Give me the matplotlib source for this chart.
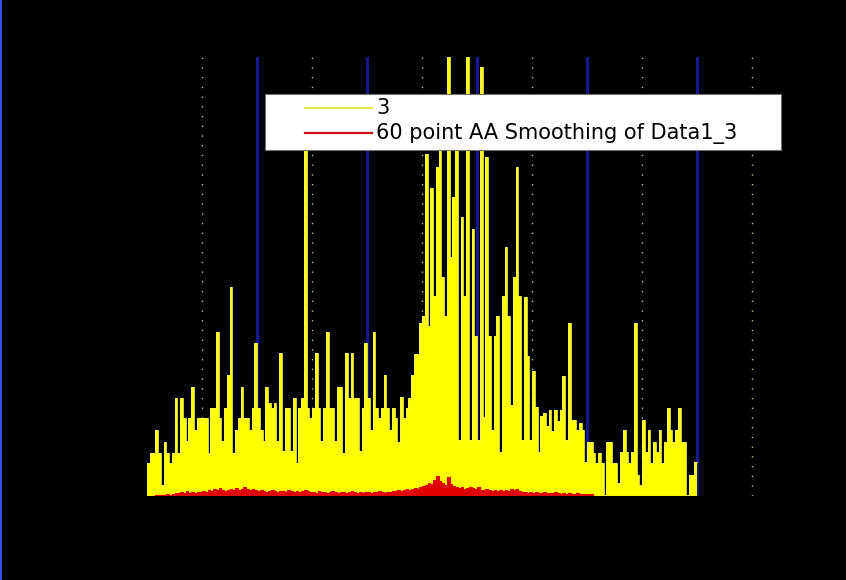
import numpy as np
import matplotlib
matplotlib.use("Agg")
import matplotlib.pyplot as plt
from matplotlib.lines import Line2D
from matplotlib.patches import Rectangle

# raw channel 3 (one value per sample)
data1_3 = [
    3.3, 4.3, 4.3, 6.6, 4.3, 1.1, 5.4, 4.3, 3.3, 4.3,
    9.8, 4.3, 9.8, 7.8, 5.5, 7.8, 10.9, 6.6, 7.8, 7.8,
    7.8, 7.8, 4.3, 8.8, 8.8, 16.4, 7.8, 5.5, 8.8, 12.1,
    20.9, 4.3, 6.6, 7.8, 10.9, 7.8, 7.8, 6.6, 8.8, 15.3,
    8.8, 6.6, 5.5, 10.9, 9.3, 8.8, 9.3, 5.5, 14.3, 4.5,
    8.8, 8.8, 4.5, 9.8, 3.3, 8.8, 9.8, 37.0, 8.8, 7.8,
    8.8, 14.3, 8.8, 5.5, 8.8, 16.4, 8.8, 8.8, 5.5, 10.9,
    10.9, 4.3, 14.3, 9.8, 14.3, 9.8, 9.8, 4.5, 8.8, 15.3,
    9.8, 6.6, 16.4, 8.8, 7.8, 8.8, 12.1, 8.8, 6.6, 8.8,
    7.8, 5.4, 9.9, 7.8, 8.8, 9.8, 12.1, 14.2, 14.2, 17.3,
    18.0, 34.3, 17.0, 30.9, 20.0, 33.0, 34.6, 22.0, 18.0, 46.0,
    24.0, 30.0, 38.0, 5.6, 28.0, 20.0, 46.0, 5.6, 26.8, 16.0,
    5.6, 43.0, 7.9, 34.0, 16.0, 6.6, 16.0, 18.0, 4.4, 20.0,
    25.0, 18.0, 9.1, 22.0, 33.0, 20.0, 5.6, 19.9, 14.0, 5.6,
    12.5, 8.9, 4.4, 8.0, 8.3, 7.0, 8.6, 6.5, 8.6, 7.5,
    8.6, 12.0, 5.6, 17.3, 7.6, 7.6, 6.6, 7.3, 6.6, 3.4,
    5.4, 5.4, 4.3, 3.3, 4.3, 3.3, 0.1, 5.4, 5.4, 3.3,
    3.3, 1.3, 4.4, 6.6, 4.4, 3.3, 4.4, 17.3, 2.1, 1.1,
    7.6, 4.4, 6.6, 3.3, 5.4, 4.4, 6.6, 3.3, 5.4, 8.8,
    6.6, 5.4, 6.6, 8.8, 5.4, 5.4, 0.1, 2.1, 2.1, 3.4,
]

# 60 point AA smoothing of the same channel
smooth_60 = [
    0.0, 0.0, 0.0, 0.15, 0.15, 0.15, 0.15, 0.2, 0.15, 0.2,
    0.35, 0.3, 0.4, 0.35, 0.5, 0.35, 0.4, 0.3, 0.45, 0.4,
    0.5, 0.45, 0.6, 0.5, 0.7, 0.6, 0.8, 0.6, 0.5, 0.6,
    0.7, 0.6, 0.8, 0.6, 0.7, 0.9, 0.7, 0.6, 0.7, 0.6,
    0.5, 0.6, 0.5, 0.4, 0.5, 0.6, 0.5, 0.4, 0.5, 0.5,
    0.4, 0.6, 0.5, 0.4, 0.5, 0.4, 0.5, 0.6, 0.5, 0.4,
    0.4, 0.3, 0.5, 0.4, 0.4, 0.3, 0.4, 0.5, 0.4, 0.3,
    0.4, 0.4, 0.3, 0.4, 0.5, 0.4, 0.3, 0.4, 0.3, 0.4,
    0.4, 0.3, 0.4, 0.4, 0.5, 0.4, 0.3, 0.4, 0.4, 0.5,
    0.5, 0.6, 0.5, 0.6, 0.7, 0.6, 0.7, 0.8, 0.7, 0.9,
    1.0, 1.1, 1.3, 1.2, 1.6, 2.0, 1.5, 1.3, 1.1, 1.9,
    1.2, 1.0, 0.9, 0.8, 0.9, 0.7, 0.8, 0.9, 0.8, 0.7,
    0.9, 0.6, 0.6, 0.7, 0.6, 0.5, 0.6, 0.5, 0.6, 0.5,
    0.6, 0.5, 0.7, 0.6, 0.7, 0.5, 0.4, 0.4, 0.3, 0.4,
    0.3, 0.4, 0.3, 0.3, 0.4, 0.3, 0.3, 0.3, 0.4, 0.3,
    0.2, 0.3, 0.2, 0.3, 0.2, 0.2, 0.3, 0.2, 0.2, 0.2,
    0.2, 0.2, 0.0, 0.0, 0.0, 0.0, 0.0, 0.0, 0.0, 0.0,
    0.0, 0.0, 0.0, 0.0, 0.0, 0.0, 0.0, 0.0, 0.0, 0.0,
    0.0, 0.0, 0.0, 0.0, 0.0, 0.0, 0.0, 0.0, 0.0, 0.0,
    0.0, 0.0, 0.0, 0.0, 0.0, 0.0, 0.0, 0.0, 0.0, 0.0,
]

labels = ["3", "60 point AA Smoothing of Data1_3"]
major_x = [40, 80, 120, 160, 200]
minor_x = [20, 60, 100, 140, 180, 220]

W, H = 846, 580
fig = plt.figure(figsize=(W / 100, H / 100), dpi=100, facecolor="black")
ax = fig.add_axes([147 / W, 84 / H, 223 * 2.75 / W, 439 / H])
ax.set_facecolor("black")

n = len(data1_3)
edges = np.arange(n + 1)
y = np.append(data1_3, data1_3[-1])
s = np.append(smooth_60, smooth_60[-1])

ax.fill_between(edges, 0, y, step="post", color="#ffff00", lw=0, zorder=2)
ax.step(edges, y, where="post", color="#f2f25a", lw=0.6, zorder=2)
ax.fill_between(edges, 0, s, step="post", color="#e00000", lw=0, zorder=3)
ax.step(edges, s, where="post", color="#e00000", lw=0.8, zorder=3)

ax.set_xlim(0, 223)
ax.set_ylim(0, 44)
ax.set_xticks(major_x)
ax.set_xticks(minor_x, minor=True)
ax.set_axisbelow(True)
ax.grid(which="major", axis="x", color="#16168e", lw=2.2, ls="-")
ax.grid(which="minor", axis="x", color="#a9cf8a", lw=1.0, ls=(0, (1, 6)))
ax.grid(which="major", axis="y", visible=False)
ax.tick_params(which="both", length=0, labelbottom=False, labelleft=False)
for sp in ax.spines.values():
    sp.set_visible(False)

# legend box drawn in figure pixels
tr = fig.transFigure
fig.add_artist(Rectangle((265 / W, 1 - 150 / H), 516 / W, 56 / H, transform=tr,
                         facecolor="white", edgecolor="#707070", lw=0.8, zorder=10))
for k, (lab, col) in enumerate(zip(labels, ["#e8e84a", "#d01010"])):
    yy = 1 - (108 + 25 * k) / H
    fig.add_artist(Line2D([305 / W, 372 / W], [yy, yy], transform=tr, color=col,
                          lw=1.6, zorder=11))
    fig.text(376 / W, yy, lab, transform=tr, color="black", fontsize=15,
             family="DejaVu Sans", va="center", ha="left", zorder=12)

# blue window edge on the left
fig.add_artist(Line2D([0.0012, 0.0012], [0, 1], transform=tr, color="#3552f0", lw=1.5))

fig.savefig("out.png", dpi=100, facecolor="black")
